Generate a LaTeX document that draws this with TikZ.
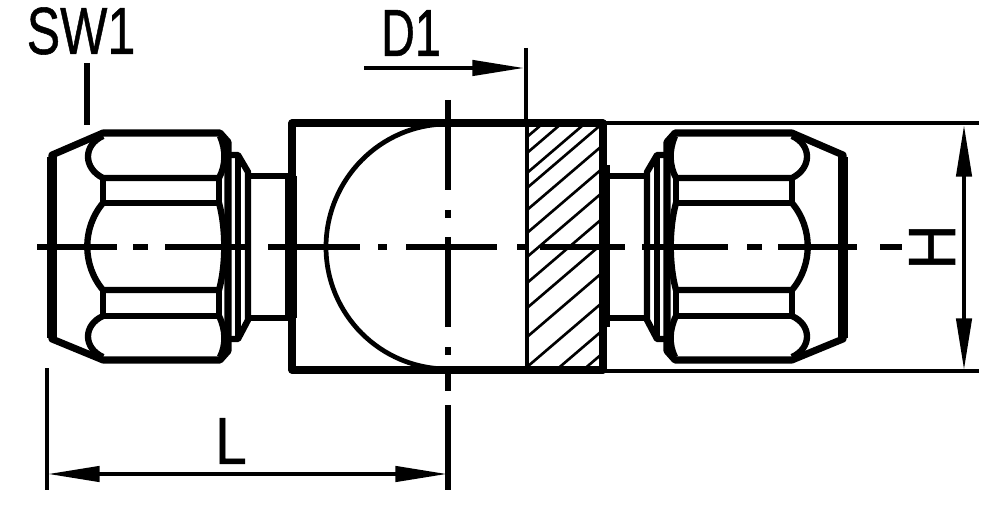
\documentclass[tikz,border=0pt]{standalone}
\usepackage{fontspec}
\setmainfont{Liberation Sans}
\newfontfamily\dimfont[FakeBold=0.8]{Liberation Sans}
\usetikzlibrary{arrows.meta}
\newcommand{\fittingnut}{
  % outer cone and end face
  \draw[heavy] (103,133) -- (52,155) -- (52,339) -- (103,360) -- (220,360) -- (228,351) -- (228,142) -- (220,133) -- cycle;
  \draw[line width=6pt] (52,157) -- (52,338);
  % hex facets
  \draw[medium] (103,136) .. controls (83,145) and (83,168) .. (103,178) -- (219,178);
  \draw[medium] (219,178) .. controls (226,165) and (226,150) .. (220,136);
  \draw[medium] (103,178) -- (103,203) -- (219,203) -- (219,178);
  \draw[medium] (103,203) .. controls (82,228) and (82,265) .. (103,290) -- (219,290);
  \draw[medium] (219,203) .. controls (226,228) and (226,265) .. (219,290);
  \draw[medium] (103,290) -- (103,316) -- (219,316) -- (219,290);
  \draw[medium] (103,316) .. controls (83,325) and (83,348) .. (103,357);
  \draw[medium] (219,316) .. controls (226,330) and (226,345) .. (220,357);
  % collar and neck
  \draw[medium] (229,155) -- (238,155) -- (248,172) -- (248,320) -- (238,339) -- (229,339);
  \draw[medium] (238,155) -- (238,339);
  \draw[medium] (248,176) -- (288,176);
  \draw[medium] (248,318) -- (288,318);
}
\begin{document}
\begin{tikzpicture}[
  x=0.02cm,
  y=-0.02cm,
  heavy/.style={line width=4pt,line join=round},
  medium/.style={line width=3.6pt,line join=round},
  thin line/.style={line width=2.3pt},
  hatch line/.style={line width=1.5pt},
  centre line/.style={line width=3pt},
  dim arrow/.style={line width=2.7pt,-{Triangle[length=30pt,width=8.5pt]}},
  label text/.style={font=\dimfont\fontsize{38}{38}\selectfont,inner sep=0pt,transform shape}
]
\useasboundingbox (0,0) rectangle (1000,506);
% nuts
\fittingnut
\begin{scope}[shift={(895,0)},xscale=-1]
\fittingnut
\end{scope}
% body
\draw[heavy] (292,123) rectangle (603,370);
\draw[line width=6.5pt] (291,176) -- (291,318);
\draw[line width=5.5pt] (605,165) -- (605,327);
\draw[thin line] (527,123) -- (527,370);
\draw[line width=2.7pt] (448,124) .. controls (380,124) and (326,180) .. (326,247) .. controls (326,314) and (380,369) .. (448,369);
% hatching
\begin{scope}
\clip (527,125) rectangle (603,368);
\foreach \hy in {137,153,173,188,210,233,257,283,308,337,367,395,418}
  \draw[hatch line] (527,\hy) -- +(76,-65);
\end{scope}
% centre lines
\foreach \xa/\xb in {37/117,133/148,165/250,268/360,378/387,406/497,517/525,540/625,642/728,747/762,778/857,880/902}
  \draw[centre line] (\xa,247) -- (\xb,247);
\foreach \ya/\yb in {100/190,210/218,237/327,347/355,373/391,405/490}
  \draw[centre line] (448,\ya) -- (448,\yb);
% extension lines
\draw[thin line] (526,48) -- (526,125);
\draw[thin line] (603,123) -- (979,123);
\draw[thin line] (603,371) -- (979,371);
\draw[centre line] (87,63) -- (87,125);
\draw[thin line] (47,368) -- (47,490);
% dimensions
\draw[dim arrow] (364,68) -- (525,68);
\coordinate (htop) at (964,124);
\coordinate (hbot) at (964,371);
\draw[dim arrow] (964,247) -- (htop);
\draw[dim arrow] (964,247) -- (hbot);
\coordinate (lleft) at (47,474);
\coordinate (lright) at (448,474);
\draw[dim arrow] (247,474) -- (lleft);
\draw[dim arrow] (247,474) -- (lright);
% labels
\node[label text,xscale=0.75] (sw) at (81,31) {SW1};
\node[label text,xscale=0.7] (dia) at (411,33) {D1};
\node[label text,xscale=0.85] (len) at (231,441) {L};
\node[label text,rotate=90,xscale=0.95] (hgt) at (932,247) {H};
\end{tikzpicture}
\end{document}
